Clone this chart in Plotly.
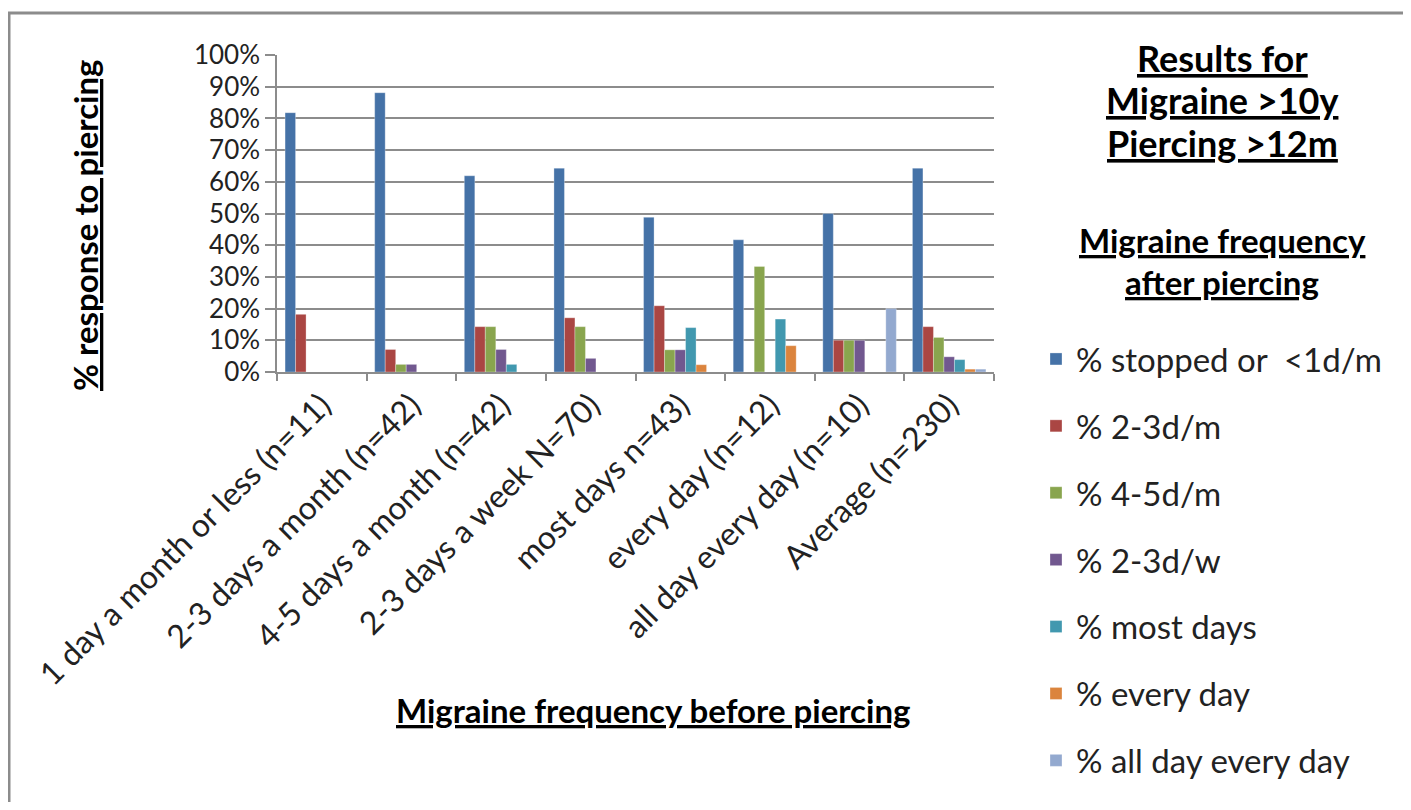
import plotly.graph_objects as go

# categories (migraine frequency before piercing)
categories = [
    "1 day a month or less (n=11)",
    "2-3 days a month (n=42)",
    "4-5 days a month (n=42)",
    "2-3 days a week N=70)",
    "most days n=43)",
    "every day (n=12)",
    "all day every day (n=10)",
    "Average (n=230)",
]

# % response per outcome after piercing
stopped = [0.818, 0.881, 0.619, 0.643, 0.488, 0.417, 0.50, 0.643]
d23m = [0.182, 0.071, 0.143, 0.171, 0.209, 0.0, 0.10, 0.143]
d45m = [0.0, 0.024, 0.143, 0.143, 0.070, 0.333, 0.10, 0.109]
d23w = [0.0, 0.024, 0.071, 0.043, 0.070, 0.0, 0.10, 0.048]
most_days = [0.0, 0.0, 0.024, 0.0, 0.140, 0.167, 0.0, 0.039]
every_day = [0.0, 0.0, 0.0, 0.0, 0.023, 0.083, 0.0, 0.009]
all_day = [0.0, 0.0, 0.0, 0.0, 0.0, 0.0, 0.20, 0.009]

series_names = ["% stopped or  <1d/m", "% 2-3d/m", "% 4-5d/m", "% 2-3d/w",
                "% most days", "% every day", "% all day every day"]
series_values = [stopped, d23m, d45m, d23w, most_days, every_day, all_day]
colors = ["#4572A7", "#AA4643", "#89A54E", "#71588F", "#4198AF", "#DB843D", "#93A9CF"]

FONT = "Lato, 'Open Sans', sans-serif"

fig = go.Figure()
for name, vals, col in zip(series_names, series_values, colors):
    fig.add_trace(go.Bar(
        x=categories, y=vals, name=name, legendgroup=name,
        marker=dict(color=col, line=dict(color="rgba(255,255,255,0.6)", width=0.5)),
    ))

# page has an 8px body margin; positions below are screen pixels of the reference
OFF = 8
W, H = 1395, 794
L, R, T, B = 277 - OFF, 994 - OFF, 55 - OFF, 372 - OFF


def px_x(p):
    return (p - OFF - L) / (R - L)


def px_y(p):
    return (B - (p - OFF)) / (B - T)


annotations = []
# right-hand titles
for txt, yp, size in [("Results for", 58, 36), ("Migraine >10y", 100, 36), ("Piercing >12m", 143, 36),
                      ("Migraine frequency", 240, 33), ("after piercing", 282, 33)]:
    annotations.append(dict(
        text="<b><u>" + txt + "</u></b>", x=px_x(1222), y=px_y(yp), xref="paper", yref="paper",
        xanchor="center", yanchor="middle", showarrow=False,
        font=dict(family=FONT, size=size, color="#000000"),
    ))
# axis titles
annotations.append(dict(
    text="<b><u>% response to piercing</u></b>", x=px_x(85), y=px_y(225), xref="paper", yref="paper",
    xanchor="center", yanchor="middle", textangle=-90, showarrow=False,
    font=dict(family=FONT, size=33, color="#000000"),
))
annotations.append(dict(
    text="<b><u>Migraine frequency before piercing</u></b>", x=px_x(653), y=px_y(710),
    xref="paper", yref="paper", xanchor="center", yanchor="middle", showarrow=False,
    font=dict(family=FONT, size=33, color="#000000"),
))

fig.update_layout(
    width=W, height=H,
    margin=dict(l=L, r=W - R, t=T, b=H - B, autoexpand=False),
    paper_bgcolor="white", plot_bgcolor="white",
    barmode="group", bargap=0.18, bargroupgap=0,
    font=dict(family=FONT, size=32, color="#222222"),
    legend=dict(
        x=px_x(1036), y=px_y(331), xanchor="left", yanchor="top",
        font=dict(family=FONT, size=33, color="#222222"),
        tracegroupgap=21, bgcolor="rgba(0,0,0,0)", maxheight=1000,
    ),
    annotations=annotations,
    shapes=[dict(
        type="rect", xref="paper", yref="paper",
        x0=px_x(9), x1=px_x(1500), y0=px_y(900), y1=px_y(13),
        line=dict(color="#8c8c8c", width=3), layer="below",
    )],
)

fig.update_xaxes(
    type="category", tickangle=-45, tickson="boundaries",
    ticks="outside", ticklen=7, tickcolor="#8c8c8c", tickwidth=1.5,
    showline=True, linecolor="#8c8c8c", linewidth=1.5, showgrid=False,
    tickfont=dict(family=FONT, size=32, color="#222222"),
)
fig.update_yaxes(
    range=[0, 1], dtick=0.1, tickformat=".0%",
    ticks="outside", ticklen=10, tickcolor="#8c8c8c", tickwidth=1.5,
    showline=True, linecolor="#8c8c8c", linewidth=1.5,
    showgrid=True, gridcolor="#8c8c8c", gridwidth=1.5, zeroline=False,
    tickfont=dict(family=FONT, size=26, color="#222222"),
)

fig.write_html("out.html")
